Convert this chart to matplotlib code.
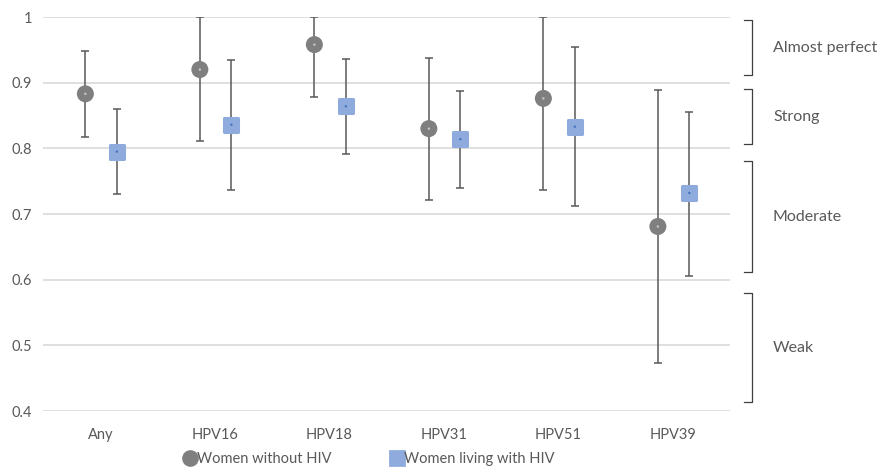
import matplotlib
matplotlib.use("Agg")
import matplotlib.pyplot as plt
import numpy as np
from matplotlib.lines import Line2D

plt.rcParams['font.family'] = ['Lato', 'DejaVu Sans']

categories = ["Any", "HPV16", "HPV18", "HPV31", "HPV51", "HPV39"]

without_val = [0.883, 0.920, 0.958, 0.830, 0.876, 0.681]
without_lo = [0.818, 0.811, 0.878, 0.721, 0.737, 0.473]
without_hi = [0.948, 1.000, 1.000, 0.938, 1.000, 0.889]

with_val = [0.795, 0.836, 0.864, 0.814, 0.833, 0.732]
with_lo = [0.730, 0.737, 0.791, 0.740, 0.712, 0.606]
with_hi = [0.860, 0.935, 0.936, 0.888, 0.954, 0.856]

series_names = ["Women without HIV", "Women living with HIV"]

levels = ["Almost perfect", "Strong", "Moderate", "Weak"]
level_lo = [0.911, 0.806, 0.612, 0.413]
level_hi = [0.995, 0.890, 0.780, 0.580]

yticks = [0.4, 0.5, 0.6, 0.7, 0.8, 0.9, 1.0]
ytick_labels = ["0.4", "0.5", "0.6", "0.7", "0.8", "0.9", "1"]

W, H = 882, 473
fig = plt.figure(figsize=(W / 100, H / 100), dpi=100)
ax = fig.add_axes([43 / W, (H - 411) / H, (730 - 43) / W, (411 - 17) / H])

txt = "#595959"
gray = "#7f7f7f"
blue = "#8faadc"
ebc = "#595959"

x = np.arange(len(categories))
xg = x - 0.13
xb = x + 0.145

wv = np.array(without_val)
ax.errorbar(xg, wv, yerr=[wv - np.array(without_lo), np.array(without_hi) - wv],
            fmt='none', ecolor=ebc, elinewidth=1.1, capsize=3.2, capthick=1.1, zorder=3)
bv = np.array(with_val)
ax.errorbar(xb, bv, yerr=[bv - np.array(with_lo), np.array(with_hi) - bv],
            fmt='none', ecolor=ebc, elinewidth=1.1, capsize=3.2, capthick=1.1, zorder=3)

ax.scatter(xg, wv, s=150, marker='o', color=gray, edgecolors='none', zorder=4)
ax.scatter(xg, wv, s=3, marker='o', color="#c8c8c8", edgecolors='none', zorder=5)
sq = ax.scatter(xb, bv, s=100, marker='s', color=blue, edgecolors=blue, linewidths=2.2,
                zorder=4)
sq.set_joinstyle('round')
ax.scatter(xb, bv, s=3, marker='o', color="#4472c4", edgecolors='none', zorder=5)

ax.set_xlim(-0.5, len(categories) - 0.5)
ax.set_ylim(0.4, 1.0)
ax.set_yticks(yticks)
ax.set_yticklabels(ytick_labels)
ax.set_xticks(x)
ax.set_xticklabels(categories)
ax.tick_params(axis='both', length=0, colors=txt, labelsize=10.5)
ax.tick_params(axis='x', pad=12)
ax.tick_params(axis='y', pad=8)
ax.grid(axis='y', color="#d9d9d9", linewidth=1.2, zorder=0)
ax.set_axisbelow(True)
for s in ax.spines.values():
    s.set_visible(False)

trans = ax.get_yaxis_transform()
x0, x1 = (744 - 43) / 687, (752 - 43) / 687
xl = (773 - 43) / 687
for name, lo, hi in zip(levels, level_lo, level_hi):
    ax.plot([x0, x1, x1, x0], [hi, hi, lo, lo], color="#404040", linewidth=0.9,
            transform=trans, clip_on=False)
    ax.text(xl, (lo + hi) / 2, name, transform=trans, ha='left', va='center',
            color=txt, fontsize=11.5)

handles = [
    Line2D([], [], linestyle='none', marker='o', markersize=12, markerfacecolor=gray,
           markeredgecolor='none'),
    Line2D([], [], linestyle='none', marker='s', markersize=10, markerfacecolor=blue,
           markeredgecolor=blue, markeredgewidth=2),
]
fig.legend(handles, series_names, loc='center', bbox_to_anchor=(368 / W, 1 - 459 / H),
           ncol=2, frameon=False, fontsize=10.5, labelcolor=txt, handletextpad=-0.1,
           columnspacing=3.9, handlelength=1.2)

fig.savefig("out.png", dpi=100)
